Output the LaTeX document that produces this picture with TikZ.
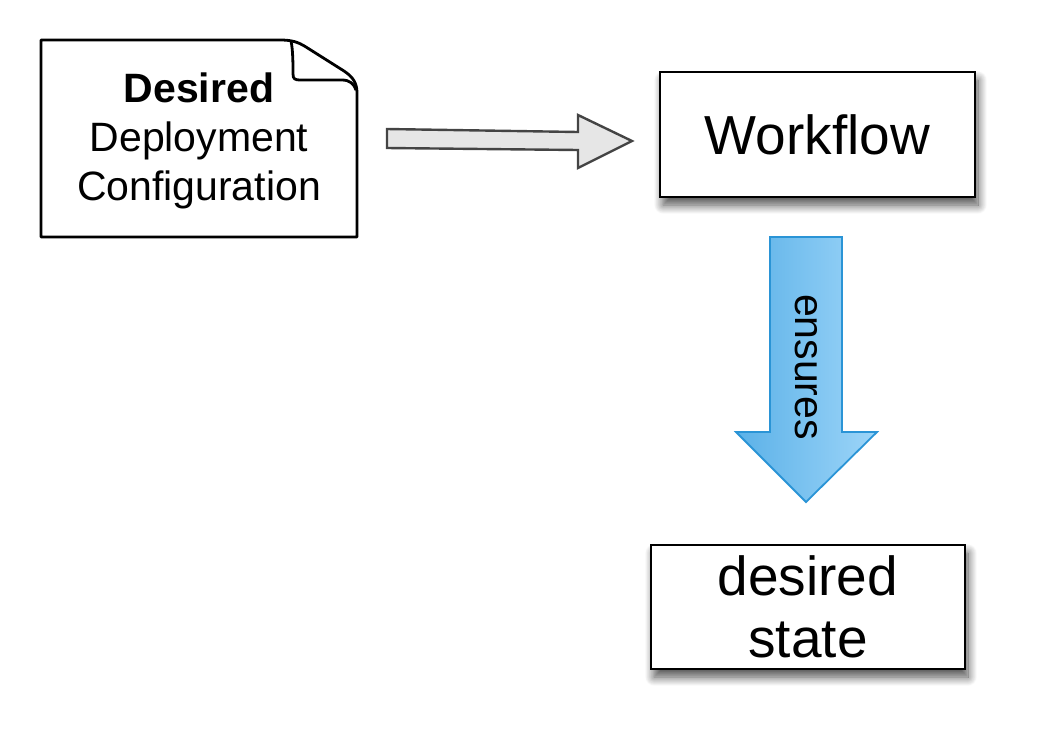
\documentclass[tikz,border=0pt]{standalone}
\usepackage{fontspec}
\setmainfont{Liberation Sans}
\usetikzlibrary{shadows.blur}
\definecolor{arrowgray}{HTML}{E6E6E6}
\definecolor{edgegray}{HTML}{444444}
\definecolor{blueL}{HTML}{5BB1E8}
\definecolor{blueR}{HTML}{9DD5F8}
\definecolor{blueedge}{HTML}{2A94D6}
\tikzset{
  box/.style={draw=black, line width=2.8pt, fill=white, rectangle,
    blur shadow={shadow xshift=3pt, shadow yshift=-8pt, shadow blur steps=14, shadow blur radius=9pt, shadow opacity=70}},
  bigtext/.style={font=\fontsize{55}{62}\selectfont, align=center},
  midtext/.style={font=\fontsize{41}{49}\selectfont, align=center},
  docedge/.style={draw=black, line width=2.8pt, line join=round},
  grayarrow/.style={draw=edgegray, line width=2.4pt, fill=arrowgray, line join=miter},
  bluearrow/.style={draw=blueedge, line width=1.8pt, left color=blueL, right color=blueR, line join=miter}
}
\begin{document}
\begin{tikzpicture}[x=1pt,y=-1pt]
\useasboundingbox (0,0) rectangle (1045,753);
% document shape
\draw[docedge, fill=white] (41,40) -- (280,40) .. controls (292,40) and (298,42) .. (306,47)
  -- (344,71) .. controls (353,77) and (357,83) .. (357,93) -- (357,237) -- (41,237) -- cycle;
\draw[docedge] (291,41) .. controls (293,50) and (293,65) .. (293,74) .. controls (293,79) and (295,80) .. (300,80)
  -- (342,80) .. controls (350,80) and (354,84) .. (356,90);
\node[midtext] (doc) at (199,141) {\textbf{Desired}\\Deployment\\Configuration};
% workflow box
\node[box, bigtext, minimum width=315pt, minimum height=125pt] (wf) at (817.5,134.5) {Workflow};
% desired state box
\node[box, bigtext, minimum width=314pt, minimum height=124pt, inner sep=0pt] (st) at (808,607) {desired\\state};
% gray arrow
\coordinate (gt) at (632,141);
\draw[grayarrow] (387,129) -- (578,132) -- (578,115) -- (gt) -- (578,168) -- (578,150) -- (387,148) -- cycle;
% blue arrow
\coordinate (bt) at (806,502);
\draw[bluearrow] (770,237) -- (842,237) -- (842,432) -- (877,432) -- (bt) -- (736,432) -- (770,432) -- cycle;
\node[midtext, rotate=-90] (ens) at (806,367) {ensures};
\end{tikzpicture}
\end{document}
